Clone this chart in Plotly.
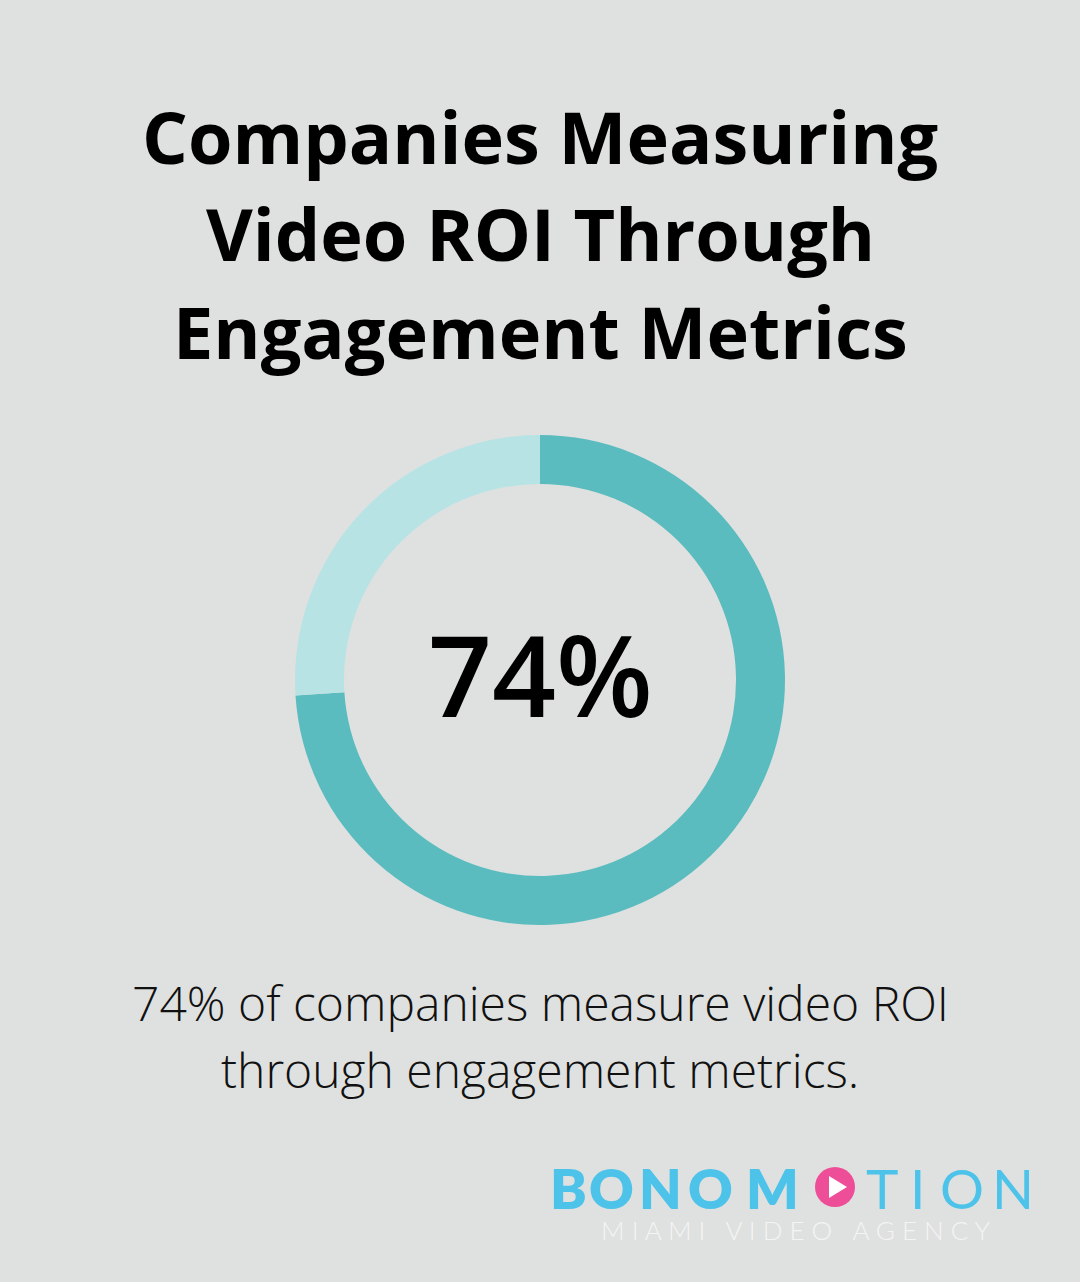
import plotly.graph_objects as go

labels = ["Measure via engagement", "Other"]
values = [74, 26]
colors = ["#5bbcbf", "#b8e3e4"]
title_lines = ["Companies Measuring", "Video ROI Through", "Engagement Metrics"]
center_text = "74%"
caption = ["74% of companies measure video ROI", "through engagement metrics."]

W, H = 1080, 1282
BG = "#dfe1e0"
def py(y): return 1 - y / H
def px(x): return x / W

fig = go.Figure(go.Pie(
    labels=labels, values=values, hole=0.8, sort=False, direction="clockwise",
    marker=dict(colors=colors, line=dict(width=0)), textinfo="none", hoverinfo="skip",
    domain=dict(x=[px(295), px(785)], y=[py(925), py(435)]), showlegend=False))

ann = []
for i, t in enumerate(title_lines):
    ann.append(dict(text=f"<b>{t}</b>", x=0.5, y=py(136 + 97.5 * i), font=dict(size=72, family="Open Sans", color="#000")))
ann.append(dict(text=center_text, x=0.5, y=py(673), font=dict(size=112, family="Open Sans", color="#000", weight=600)))
for i, t in enumerate(caption):
    ann.append(dict(text=t, x=0.5, y=py(1003 + 66 * i), font=dict(size=48, family="Open Sans", color="#111", weight=300)))
logo = [("B", 568), ("O", 611), ("N", 660), ("O", 710), ("M", 772), ("T", 882), ("I", 917), ("O", 962), ("N", 1013)]
for ch, x in logo:
    w = 800 if x < 800 else 400
    ann.append(dict(text=ch, x=px(x), y=py(1188), font=dict(size=55, family="Lato", color="#4dc3ea", weight=w)))
ann.append(dict(text="M I A M I   V I D E O   A G E N C Y", x=px(795), y=py(1230),
                font=dict(size=26, family="Lato", color="#f4f4f4", weight=300)))
for a in ann:
    a.update(xref="paper", yref="paper", showarrow=False, xanchor="center", yanchor="middle")

shapes = [
    dict(type="circle", xref="paper", yref="paper", x0=px(815), x1=px(855), y0=py(1207), y1=py(1167),
         fillcolor="#ee4d97", line=dict(width=0)),
    dict(type="path", xref="paper", yref="paper",
         path=f"M {px(829)},{py(1176)} L {px(829)},{py(1198)} L {px(847)},{py(1187)} Z",
         fillcolor="#ffffff", line=dict(width=0)),
]

fig.update_layout(width=W, height=H, margin=dict(l=0, r=0, t=0, b=0),
                  paper_bgcolor=BG, plot_bgcolor=BG, annotations=ann, shapes=shapes)
fig.write_html("out.html", config={"displayModeBar": False},
               post_script="document.body.style.margin='0';document.body.style.background='#dfe1e0';")
